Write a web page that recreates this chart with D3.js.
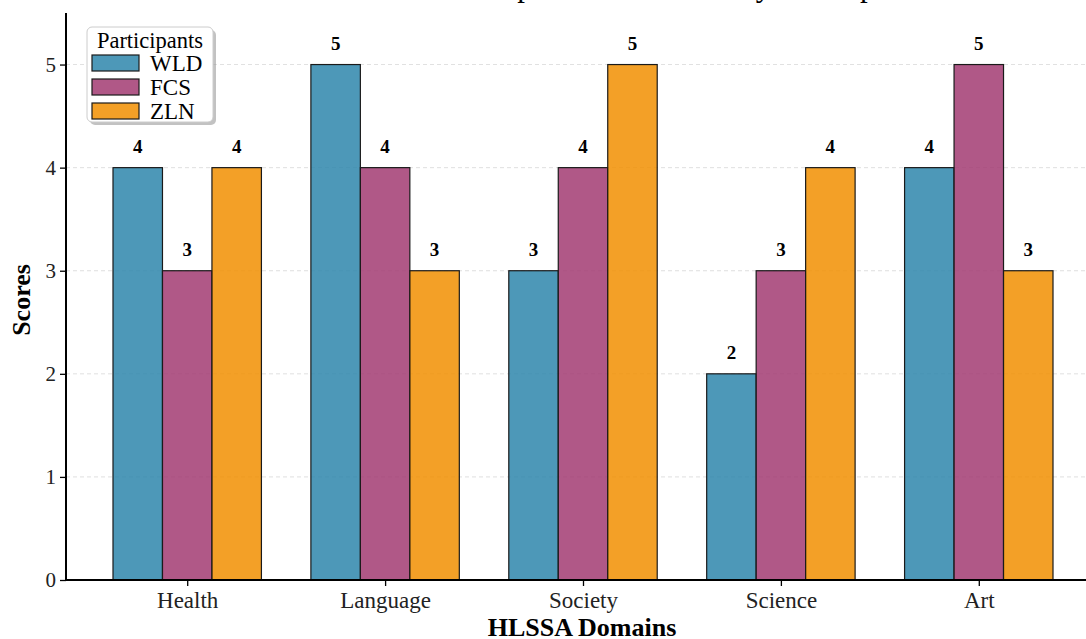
<!DOCTYPE html>
<html>
<head>
<meta charset="utf-8">
<script src="https://cdn.jsdelivr.net/npm/d3@7"></script>
<style>
  html, body { margin: 0; padding: 0; background: #fff; }
  svg { display: block; }
  text { font-family: "Liberation Serif", "Times New Roman", serif; }
</style>
</head>
<body>
<svg id="chart" width="1086" height="639"></svg>
<script>
const categories = ["Health", "Language", "Society", "Science", "Art"];
const seriesNames = ["WLD", "FCS", "ZLN"];
const wld = [4, 5, 3, 2, 4];
const fcs = [3, 4, 4, 3, 5];
const zln = [4, 3, 5, 4, 3];
const seriesValues = [wld, fcs, zln];
const colors = ["#2E86AB", "#A23B72", "#F18F01"];
const yTicks = [0, 1, 2, 3, 4, 5];
const titleText = "Comparison of Scores by Participants";

const svg = d3.select("#chart");
const x = d3.scaleLinear().domain([-0.6125, 4.6125]).range([66, 1100]);
const y = d3.scaleLinear().domain([0, 5.5]).range([580, 13]);
const barW = 0.25;

// title (mostly cropped off the top, as in the reference)
svg.append("text").attr("x", 457).attr("y", -4)
  .attr("font-size", 31).text(titleText);

// grid
svg.append("g").selectAll("line").data(yTicks.filter(d => d > 0)).join("line")
  .attr("x1", 66).attr("x2", 1100)
  .attr("y1", d => y(d)).attr("y2", d => y(d))
  .attr("stroke", "#cfcfcf").attr("stroke-width", 0.8)
  .attr("stroke-dasharray", "4,3").attr("opacity", 0.8);

// bars
seriesNames.forEach((s, si) => {
  const g = svg.append("g");
  const data = categories.map((c, i) => ({ i, v: seriesValues[si][i] }));
  g.selectAll("rect").data(data).join("rect")
    .attr("x", d => x(d.i + (si - 1) * barW - barW / 2))
    .attr("width", d => x(barW) - x(0))
    .attr("y", d => y(d.v))
    .attr("height", d => y(0) - y(d.v))
    .attr("fill", colors[si]).attr("fill-opacity", 0.85)
    .attr("stroke", "#1a1a1a").attr("stroke-width", 1.2);
  g.selectAll("text").data(data).join("text")
    .attr("x", d => x(d.i + (si - 1) * barW))
    .attr("y", d => y(d.v) - 15)
    .attr("text-anchor", "middle")
    .attr("font-size", 19).attr("font-weight", "bold")
    .text(d => d.v);
});

// axes
const yAxis = d3.axisLeft(y).tickValues(yTicks).tickSize(6).tickPadding(4).tickFormat(d3.format("d"));
const gy = svg.append("g").attr("transform", "translate(66,0)").call(yAxis);
gy.select(".domain").remove();
gy.append("line").attr("x1", 0).attr("x2", 0).attr("y1", 13).attr("y2", 581)
  .attr("stroke", "#000").attr("stroke-width", 2);
gy.selectAll(".tick line").attr("stroke", "#000").attr("stroke-width", 1.3);
gy.selectAll(".tick text").attr("font-size", 21).attr("fill", "#222")
  .attr("font-family", "Liberation Serif");

const xAxis = d3.axisBottom(x).tickValues(d3.range(categories.length))
  .tickSize(6).tickPadding(6).tickFormat(i => categories[i]);
const gx = svg.append("g").attr("transform", "translate(0,580)").call(xAxis);
gx.select(".domain").remove();
gx.append("line").attr("x1", 65).attr("x2", 1100).attr("y1", 0).attr("y2", 0)
  .attr("stroke", "#000").attr("stroke-width", 2);
gx.selectAll(".tick line").attr("stroke", "#000").attr("stroke-width", 1.3);
gx.selectAll(".tick text").attr("font-size", 23).attr("fill", "#222")
  .attr("font-family", "Liberation Serif");

// axis labels
svg.append("text").attr("transform", "translate(30,300) rotate(-90)")
  .attr("text-anchor", "middle").attr("font-size", 26).attr("font-weight", "bold")
  .text("Scores");
svg.append("text").attr("x", 582).attr("y", 636)
  .attr("text-anchor", "middle").attr("font-size", 26).attr("font-weight", "bold")
  .text("HLSSA Domains");

// legend
const lg = svg.append("g").attr("transform", "translate(87,27)");
lg.append("rect").attr("x", 3).attr("y", 3).attr("width", 126).attr("height", 95)
  .attr("rx", 5).attr("fill", "#9a9a9a").attr("opacity", 0.6);
lg.append("rect").attr("x", 0).attr("y", 0).attr("width", 126).attr("height", 95)
  .attr("rx", 5).attr("fill", "#fff").attr("stroke", "#cccccc").attr("stroke-width", 1);
lg.append("text").attr("x", 63).attr("y", 21).attr("text-anchor", "middle")
  .attr("font-size", 22.5).text("Participants");
seriesNames.forEach((s, si) => {
  const yy = 28 + si * 24;
  lg.append("rect").attr("x", 5).attr("y", yy).attr("width", 47).attr("height", 16)
    .attr("fill", colors[si]).attr("fill-opacity", 0.85)
    .attr("stroke", "#1a1a1a").attr("stroke-width", 1.2);
  lg.append("text").attr("x", 63).attr("y", yy + 16).attr("font-size", 23).text(s);
});
</script>
</body>
</html>
